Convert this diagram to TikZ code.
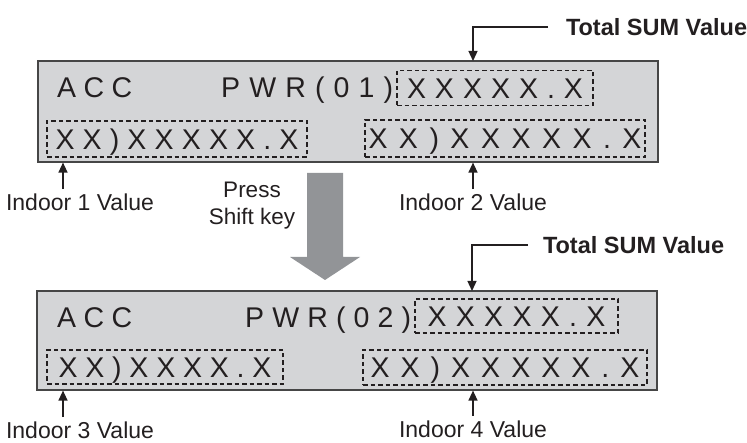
\documentclass[tikz,border=0pt]{standalone}
\usepackage{fontspec}
\setmainfont{Liberation Sans}
\usetikzlibrary{
	arrows.meta,
	positioning,
	calc
}
\definecolor{lcdgray}{RGB}{212,213,215}
\definecolor{framegray}{RGB}{70,70,70}
\definecolor{shiftgray}{RGB}{146,148,151}
\definecolor{ink}{RGB}{35,31,32}

\begin{document}
\begin{tikzpicture}[x=1pt,y=-1pt,
		panel/.style={draw=framegray, fill=lcdgray, line width=1.2pt, rectangle, minimum width=620pt, inner sep=0pt},
		lcd/.style={font=\fontsize{28.5}{28.5}\selectfont, text=ink, text height=20.4pt, text depth=0pt, inner sep=0pt},
		field/.style={lcd, draw=ink, dash pattern=on 4.5pt off 3pt, line width=1.6pt},
		lbl/.style={font=\fontsize{23}{27}\selectfont, text=ink, text height=16.5pt, text depth=0pt, inner sep=0pt, outer sep=5pt},
		sumlbl/.style={lbl, font=\fontsize{23.5}{27}\selectfont\bfseries},
		arrow/.style={-{Triangle[width=9pt,length=10pt]}, line width=1.3pt, draw=ink}
		]
		\useasboundingbox (0,0) rectangle (747,443);
		
		% --- First display ---
		\node[panel, minimum height=101pt] (panA) at (348,111.5) {};
		\node[lcd, anchor=west] (accA) at (57,87) {\makebox[75pt][s]{A C C}};
		\node[lcd, anchor=west] (pwrA) at (221,87) {\makebox[172pt][s]{P W R ( 0 1 )}};
		\node[field, minimum width=196pt, minimum height=35pt] (totA) at (495,88) {\makebox[176pt][s]{X X X X X . X}};
		\node[field, minimum width=260pt, minimum height=36pt] (inA1) at (177,139) {\makebox[243pt][s]{X X ) X X X X X . X}};
		\node[field, minimum width=280pt, minimum height=37pt] (inA2) at (505,138.5) {\makebox[273pt][s]{X X ) X X X X X . X}};
		
		% --- Second display ---
		\node[panel, minimum height=99pt] (panB) at (347,340.5) {};
		\node[lcd, anchor=west] (accB) at (57,317) {\makebox[75pt][s]{A C C}};
		\node[lcd, anchor=west] (pwrB) at (245,317) {\makebox[166pt][s]{P W R ( 0 2 )}};
		\node[field, minimum width=203pt, minimum height=34pt] (totB) at (516.5,316) {\makebox[178pt][s]{X X X X X . X}};
		\node[field, minimum width=236pt, minimum height=34pt] (inB3) at (165,367) {\makebox[213pt][s]{X X ) X X X X . X}};
		\node[field, minimum width=284pt, minimum height=35pt] (inB4) at (505,367.5) {\makebox[269pt][s]{X X ) X X X X X . X}};
		
		% --- Labels ---
		\node[sumlbl, anchor=west] (sumA) at (561,27) {Total SUM Value};
		\node[sumlbl, anchor=west] (sumB) at (538,245) {Total SUM Value};
		\node[lbl] (lblA1) at (80,202.5) {Indoor 1 Value};
		\node[lbl] (lblA2) at (473,202.5) {Indoor 2 Value};
		\node[lbl] (lblB3) at (80,430.5) {Indoor 3 Value};
		\node[lbl] (lblB4) at (473,429) {Indoor 4 Value};
		\node[font=\fontsize{22.5}{26.5}\selectfont, text=ink, align=center, inner sep=0pt, anchor=north] (press) at (252,182) {Press\\Shift key};
		
		% --- Shift arrow ---
		\fill[shiftgray] (307,173) -- (343,173) -- (343,257) -- (360,257) -- (325,280) -- (290,257) -- (307,257) -- cycle;
		
		% --- Arrows ---
		\coordinate (hitA) at (473,61);
		\coordinate (hitB) at (472,291);
		\coordinate (hitA1) at (63,162.6);
		\coordinate (hitB3) at (63,390.6);
		
		\draw[arrow] ([xshift=-13pt]sumA.west) -| (hitA);
		\draw[arrow] ([xshift=-10pt]sumB.west) -| (hitB);
		
		\draw[arrow] (lblA1.north -| hitA1) -- (hitA1);
		\draw[arrow] (lblA2.north) -- (lblA2.north |- panA.south);
		\draw[arrow] (lblB3.north -| hitB3) -- (hitB3);
		\draw[arrow] (lblB4.north) -- (lblB4.north |- panB.south);
		
\end{tikzpicture}
\end{document}
